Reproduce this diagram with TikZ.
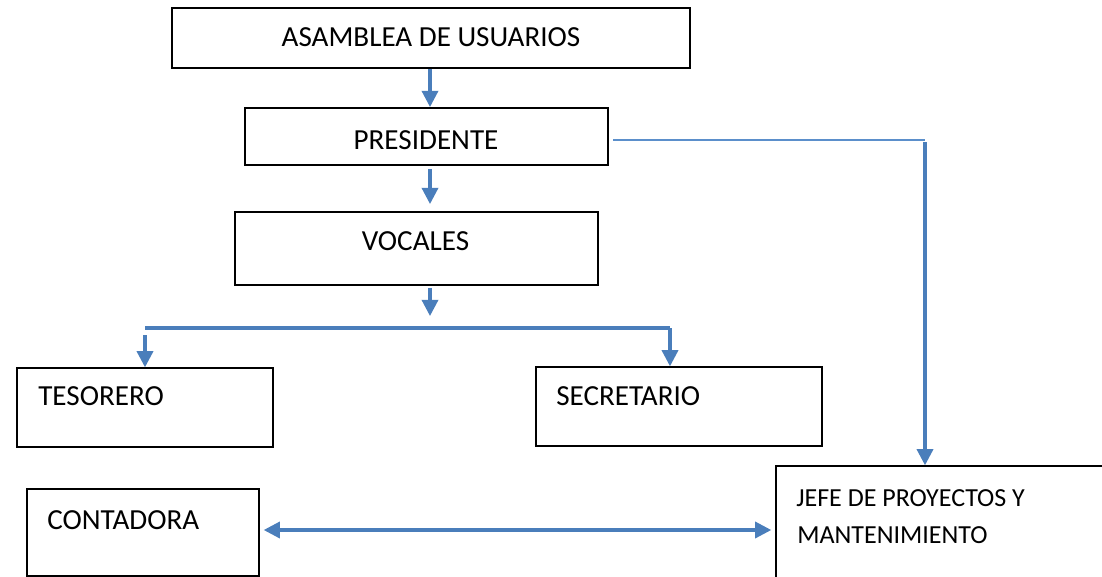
\documentclass[tikz,border=0pt]{standalone}
\usepackage{fontspec}
\setmainfont{Carlito}
\usetikzlibrary{arrows.meta, positioning}

\begin{document}
\begin{tikzpicture}[x=0.025cm, y=-0.025cm,
    box/.style={draw=black, line width=1pt, inner sep=0pt},
    topbox/.style={box, line width=1.4pt},
    txt/.style={font=\fontsize{20.7pt}{24pt}\selectfont, inner sep=0pt},
    smalltxt/.style={font=\fontsize{18.5pt}{22pt}\selectfont, inner sep=0pt},
    arrow/.style={draw=lineBlue, line width=2.2pt, -{Triangle[width=11.5pt,length=11.5pt]}},
    biarrow/.style={draw=lineBlue, line width=2.2pt, {Triangle[width=11.5pt,length=11.5pt]}-{Triangle[width=11.5pt,length=11.5pt]}},
    bus/.style={draw=lineBlue, line width=2.2pt},
    thinline/.style={draw=thinBlue, line width=0.8pt}]
  % Define colours
  \definecolor{lineBlue}{HTML}{4A7EBB}
  \definecolor{thinBlue}{HTML}{5B8FCB}

  % Fix the page size
  \useasboundingbox (0,0) rectangle (1102,577);

  % Draw the boxes
  \node[topbox, minimum width=12.95cm, minimum height=1.5cm] (asamblea) at (431,38) {};
  \node[topbox, minimum width=9.075cm, minimum height=1.425cm] (presidente) at (426.5,136.5) {};
  \node[topbox, minimum width=9.075cm, minimum height=1.825cm] (vocales) at (416.5,248.5) {};
  \node[box, minimum width=6.4cm, minimum height=1.975cm] (tesorero) at (145,407.5) {};
  \node[box, minimum width=7.15cm, minimum height=1.975cm] (secretario) at (679,406.5) {};
  \node[box, minimum width=5.8cm, minimum height=2.175cm] (contadora) at (143,532.5) {};
  \node[box, minimum width=8.475cm, minimum height=3.1cm] (jefe) at (945.5,528) {};

  % Label the boxes
  \node[txt] (lblAsamblea) at (431,37) {ASAMBLEA DE USUARIOS};
  \node[txt] (lblPresidente) at (426,140) {PRESIDENTE};
  \node[txt] (lblVocales) at (415.5,241) {VOCALES};
  \node[txt, anchor=west] (lblTesorero) at (38,396) {TESORERO};
  \node[txt, anchor=west] (lblSecretario) at (556,396) {SECRETARIO};
  \node[txt, anchor=west] (lblContadora) at (47,520) {CONTADORA};
  \node[smalltxt, anchor=west] (lblJefeA) at (796,498) {JEFE DE PROYECTOS Y};
  \node[smalltxt, anchor=west] (lblJefeB) at (797,535) {MANTENIMIENTO};

  % Define the branch points
  \coordinate (busMid) at (430,328);
  \coordinate (busLeft) at (145,328);
  \coordinate (busRight) at (670,328);
  \coordinate (corner) at (925,140);

  % Draw the arrows down the chain
  \draw[arrow] (asamblea.south -| busMid) -- (presidente.north -| busMid);
  \draw[arrow, shorten <=0.075cm, shorten >=0.175cm] (presidente.south -| busMid) -- (vocales.north -| busMid);
  \draw[arrow, shorten <=0.05cm, shorten >=0.3cm] (vocales.south -| busMid) -- (busMid);

  % Split to tesorero and secretario
  \draw[bus] (busLeft) -- (busRight);
  \draw[arrow, shorten <=0.175cm] (busLeft) -- (busLeft |- tesorero.north);
  \draw[arrow] (busRight) -- (busRight |- secretario.north);

  % Presidente to jefe
  \draw[thinline, shorten <=0.1cm] (presidente.east |- corner) -- (corner);
  \draw[arrow, shorten <=0.05cm] (corner) -- (corner |- jefe.north);

  % Contadora and jefe
  \draw[biarrow, shorten <=0.1cm, shorten >=0.1cm] (contadora.east |- 0,530) -- (jefe.west |- 0,530);
\end{tikzpicture}
\end{document}
